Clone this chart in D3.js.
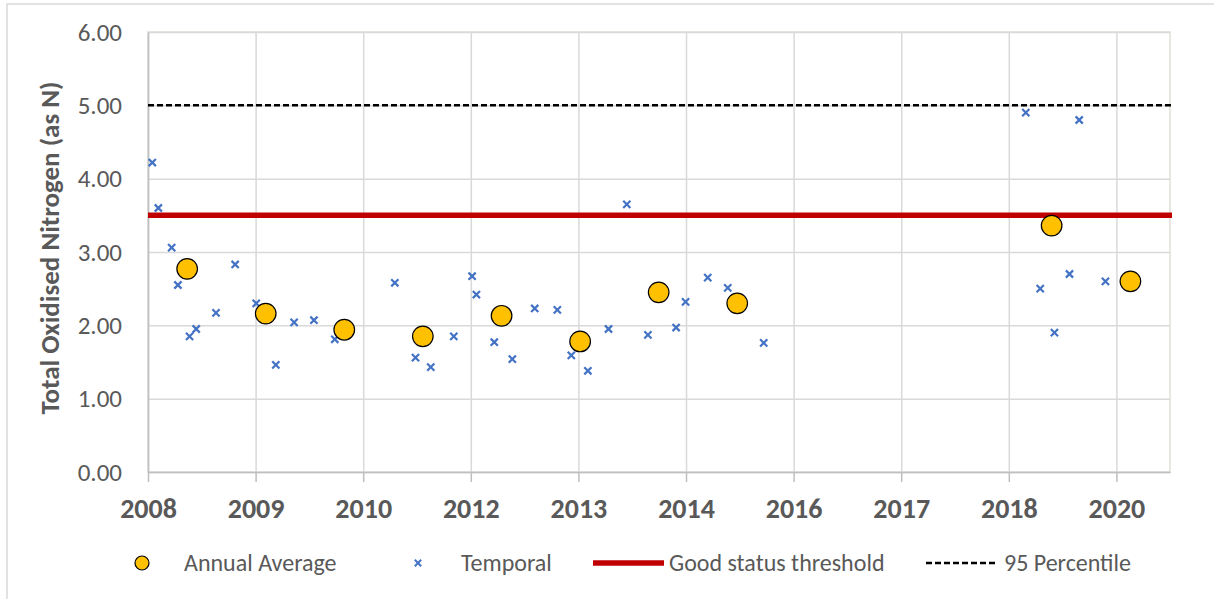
<!DOCTYPE html>
<html>
<head>
<meta charset="utf-8">
<script src="https://cdn.jsdelivr.net/npm/d3@7"></script>
<style>
  body { margin: 0; background: #fff; }
  svg text { font-family: Calibri, Carlito, "Open Sans", sans-serif; }
</style>
</head>
<body>
<div id="chart"></div>
<script>
// chart data
var temporalDates = ["2008-01-21", "2008-02-18", "2008-04-20", "2008-05-19", "2008-07-12", "2008-08-12", "2008-11-12",
  "2009-02-09", "2009-05-18", "2009-08-17", "2009-11-10",
  "2010-02-10", "2010-05-18",
  "2011-02-21", "2011-05-28", "2011-08-07", "2011-11-22",
  "2012-02-15", "2012-03-06", "2012-05-28", "2012-08-20", "2012-12-02",
  "2013-03-17", "2013-05-21", "2013-08-06", "2013-11-10",
  "2014-02-03", "2014-05-12", "2014-09-20", "2014-11-03",
  "2015-02-14", "2015-05-18", "2015-11-01",
  "2019-03-03", "2019-05-09", "2019-07-14", "2019-09-22", "2019-11-06",
  "2020-03-07"];
var temporalValues = [4.22, 3.60, 3.06, 2.55, 1.85, 1.95, 2.17,
  2.83, 2.30, 1.46, 2.04,
  2.07, 1.81,
  2.58, 1.56, 1.43, 1.85,
  2.67, 2.42, 1.77, 1.54, 2.23,
  2.21, 1.59, 1.38, 1.95,
  3.65, 1.87, 1.97, 2.32,
  2.65, 2.51, 1.76,
  4.90, 2.50, 1.90, 2.70, 4.80,
  2.60];

var annualDates = ["2008-07-01", "2009-07-01", "2010-07-01", "2011-07-01", "2012-07-01",
  "2013-07-01", "2014-07-01", "2015-07-01", "2019-07-01", "2020-07-01"];
var annualValues = [2.77, 2.16, 1.94, 1.85, 2.13, 1.78, 2.45, 2.30, 3.36, 2.60];

var thresholdValue = 3.5;   // Good status threshold
var percentileValue = 5.0;  // 95 Percentile

var yTicks = [0, 1, 2, 3, 4, 5, 6];
// excel date axis, one major unit every 500 days from 2008-01-01
var xTickDates = ["2008-01-01", "2009-05-15", "2010-09-27", "2012-02-09", "2013-06-23",
  "2014-11-05", "2016-03-19", "2017-08-01", "2018-12-14", "2020-04-27"];
var xDomain = ["2008-01-01", "2021-01-01"];

var seriesNames = ["Annual Average", "Temporal", "Good status threshold", "95 Percentile"];
var yTitle = "Total Oxidised Nitrogen (as N)";

// set the dimensions and margins of the graph
var W = 1214, H = 599;
var margin = {top: 32, right: 44, bottom: 127, left: 148},
    width = W - margin.left - margin.right,
    height = H - margin.top - margin.bottom;

var parse = d3.utcParse("%Y-%m-%d");

var svg = d3.select("#chart")
  .append("svg")
    .attr("width", W)
    .attr("height", H);

// outer chart border (runs off the picture on right/bottom)
svg.append("rect")
    .attr("x", 7).attr("y", 4)
    .attr("width", 1300).attr("height", 700)
    .attr("fill", "none")
    .attr("stroke", "#D9D9D9")
    .attr("stroke-width", 1.5);

var g = svg.append("g")
    .attr("transform", "translate(" + margin.left + "," + margin.top + ")");

var x = d3.scaleUtc()
    .domain(xDomain.map(parse))
    .range([0, width]);

var y = d3.scaleLinear()
    .domain([0, 6])
    .range([height, 0]);

// plot area border
g.append("rect")
    .attr("width", width).attr("height", height)
    .attr("fill", "none")
    .attr("stroke", "#E0E0D8")
    .attr("stroke-width", 1.5);

// horizontal gridlines
g.append("g")
    .call(d3.axisLeft(y).tickValues(yTicks).tickSize(-width).tickFormat(""))
    .call(a => a.select(".domain").remove())
    .selectAll("line")
      .attr("stroke", "#D9D9D9")
      .attr("stroke-width", 1.5);

// vertical gridlines
g.append("g")
    .call(d3.axisTop(x).tickValues(xTickDates.map(parse)).tickSize(-height).tickFormat(""))
    .call(a => a.select(".domain").remove())
    .selectAll("line")
      .attr("stroke", "#D9D9D9")
      .attr("stroke-width", 1.5);

// y axis labels
var yAxis = g.append("g")
    .call(d3.axisLeft(y).tickValues(yTicks).tickSize(0).tickPadding(26).tickFormat(d3.format(".2f")));
yAxis.select(".domain").attr("stroke", "#BFBFBF").attr("stroke-width", 1.5);
yAxis.selectAll("text")
    .attr("fill", "#595959")
    .style("font-size", "25px")
    .attr("dy", "0.33em");

// x axis
var xAxis = g.append("g")
    .attr("transform", "translate(0," + height + ")")
    .call(d3.axisBottom(x).tickValues(xTickDates.map(parse)).tickSize(10).tickSizeOuter(0).tickFormat(d3.utcFormat("%Y")));
xAxis.select(".domain").attr("stroke", "#BFBFBF").attr("stroke-width", 1.5);
xAxis.selectAll("line").attr("stroke", "#BFBFBF").attr("stroke-width", 1.5);
xAxis.selectAll("text")
    .attr("fill", "#595959")
    .attr("y", 46)
    .attr("dy", null)
    .style("font-size", "28px")
    .style("font-weight", "bold");

// y axis title
svg.append("text")
    .attr("transform", "translate(59," + (margin.top + height / 2 - 4) + ") rotate(-90)")
    .attr("text-anchor", "middle")
    .attr("fill", "#595959")
    .style("font-size", "27px")
    .style("font-weight", "bold")
    .text(yTitle);

// reference lines
g.append("line")
    .attr("x1", 0).attr("x2", width + 2)
    .attr("y1", y(percentileValue)).attr("y2", y(percentileValue))
    .attr("stroke", "#000")
    .attr("stroke-width", 2.5)
    .attr("stroke-dasharray", "6,3");

g.append("line")
    .attr("x1", 0).attr("x2", width + 2)
    .attr("y1", y(thresholdValue)).attr("y2", y(thresholdValue))
    .attr("stroke", "#C00000")
    .attr("stroke-width", 5.5);

// temporal samples as small crosses
function cross(cx, cy, r) {
  return "M" + (cx - r) + "," + (cy - r) + "L" + (cx + r) + "," + (cy + r) +
         "M" + (cx + r) + "," + (cy - r) + "L" + (cx - r) + "," + (cy + r);
}

var temporal = temporalDates.map((d, i) => ({date: parse(d), value: temporalValues[i]}));
var annual = annualDates.map((d, i) => ({date: parse(d), value: annualValues[i]}));

g.selectAll(".temporal")
  .data(temporal)
  .enter()
  .append("path")
    .attr("class", "temporal")
    .attr("d", d => cross(x(d.date), y(d.value), 3.6))
    .attr("stroke", "#4472C4")
    .attr("stroke-width", 2.2)
    .attr("fill", "none");

g.selectAll(".annual")
  .data(annual)
  .enter()
  .append("circle")
    .attr("class", "annual")
    .attr("cx", d => x(d.date))
    .attr("cy", d => y(d.value))
    .attr("r", 10.3)
    .attr("fill", "#FFC000")
    .attr("stroke", "#000")
    .attr("stroke-width", 1.2);

// legend
var ly = 563;
var legend = svg.append("g");

legend.append("circle")
    .attr("cx", 142).attr("cy", ly).attr("r", 7)
    .attr("fill", "#FFC000").attr("stroke", "#000").attr("stroke-width", 1.2);
legend.append("path")
    .attr("d", cross(418, ly, 3.2))
    .attr("stroke", "#4472C4").attr("stroke-width", 2).attr("fill", "none");
legend.append("line")
    .attr("x1", 593).attr("x2", 664).attr("y1", ly).attr("y2", ly)
    .attr("stroke", "#C00000").attr("stroke-width", 5.5);
legend.append("line")
    .attr("x1", 926).attr("x2", 997).attr("y1", ly).attr("y2", ly)
    .attr("stroke", "#000").attr("stroke-width", 2.5).attr("stroke-dasharray", "6,3");

var legendX = [184, 461, 669, 1004];
legend.selectAll(".ltext")
  .data(seriesNames)
  .enter()
  .append("text")
    .attr("class", "ltext")
    .attr("x", (d, i) => legendX[i])
    .attr("y", ly)
    .attr("dy", "0.33em")
    .attr("fill", "#595959")
    .style("font-size", "24px")
    .text(d => d);
</script>
</body>
</html>
